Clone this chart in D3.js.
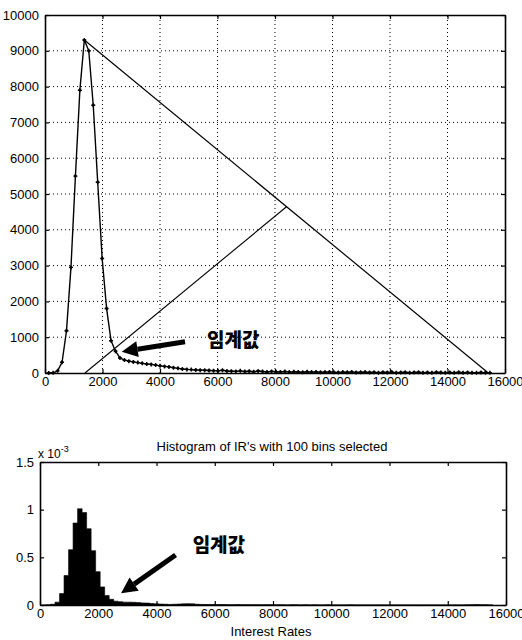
<!DOCTYPE html>
<html><head><meta charset="utf-8">
<script src="https://cdn.jsdelivr.net/npm/d3@7"></script>
<style>
html,body{margin:0;padding:0;background:#fff;}
svg{display:block;font-family:"Liberation Sans",Arial,sans-serif;}
</style></head>
<body><svg id="c" width="522" height="640"></svg>
<script>
// ---- data ----
const binStart = 128;      // centre of first bin
const binWidth = 155;      // bin width (Interest Rates)
const counts = [0,5,60,300,1180,2950,5500,7900,9300,9000,
  7480,5330,3200,1800,900,610,420,360,330,310,
  290,270,250,240,220,200,185,170,150,130,
  110,100,95,85,80,75,70,65,60,75,
  55,50,45,60,40,50,35,55,40,30,
  45,35,30,40,25,35,30,20,35,25,
  30,20,25,30,20,15,25,20,30,15,
  20,25,15,20,10,20,15,25,10,15,
  20,10,15,20,10,15,10,20,15,10,
  15,10,20,10,15,10,5,15,10,5];
const density = [0,0.002,0.008,0.03,0.12,0.31,0.58,0.86,1.01,0.97,
  0.8,0.57,0.35,0.19,0.1,0.06,0.04,0.035,0.03,0.03,
  0.028,0.025,0.022,0.02,0.015,0.012,0.01,0.008,0.006,0.008,
  0.01,0.012,0.014,0.012,0.008,0.006,0.005,0.004,0.004,0.005,
  0.004,0.003,0.003,0.004,0.003,0.003,0.002,0.003,0.002,0.002,
  0.003,0.002,0.002,0.002,0.001,0.002,0.002,0.001,0.002,0.001,
  0.002,0.001,0.001,0.002,0.001,0.001,0.001,0.001,0.002,0.001,
  0.001,0.001,0.001,0.001,0.001,0.001,0.001,0.001,0.001,0.001,
  0.001,0.001,0.001,0.001,0.001,0.001,0.001,0.001,0.001,0.001,
  0.001,0.001,0.001,0.001,0.002,0.003,0.004,0.003,0.002,0.001];
const triLine = [[1368,9300],[15420,0]];
const perpLine = [[1390,0],[8410,4650]];
const xTicks = [0,2000,4000,6000,8000,10000,12000,14000,16000];
const yTicksTop = [0,1000,2000,3000,4000,5000,6000,7000,8000,9000,10000];
const yTicksBot = [0,0.5,1,1.5];
const label = "임계값";
const arrowTop = {from:[4870,874], to:[2668,595], text:[5635,922]};
const arrowBot = {from:[4655,0.524], to:[2783,0.123], text:[5241,0.63]};
const histTitle = "Histogram of IR's with 100 bins selected";
const xLabel = "Interest Rates";

const centers = counts.map((_,i)=>binStart+binWidth*i);

const svg = d3.select("#c");

// ---- top chart ----
const xT = d3.scaleLinear().domain([0,16000]).range([45,505]);
const yT = d3.scaleLinear().domain([0,10000]).range([373,15]);
const gT = svg.append("g");

// grid
gT.selectAll(".vg").data(xTicks.slice(1,-1)).join("line")
  .attr("x1",d=>xT(d)).attr("x2",d=>xT(d)).attr("y1",yT(0)).attr("y2",yT(10000))
  .attr("stroke","#000").attr("stroke-width",1).attr("stroke-dasharray","1,3");
gT.selectAll(".hg").data(yTicksTop.slice(1,-1)).join("line")
  .attr("x1",xT(0)).attr("x2",xT(16000)).attr("y1",d=>yT(d)).attr("y2",d=>yT(d))
  .attr("stroke","#000").attr("stroke-width",1).attr("stroke-dasharray","1,3");

function axes(g,x,y,xt,yt,fmtY){
  const xb = g.append("g").attr("transform",`translate(0,${y.range()[0]})`)
    .call(d3.axisBottom(x).tickValues(xt).tickSizeInner(-4).tickSizeOuter(0).tickPadding(4).tickFormat(d3.format("d")));
  const xtop = g.append("g").attr("transform",`translate(0,${y.range()[1]})`)
    .call(d3.axisTop(x).tickValues(xt).tickSizeInner(-4).tickSizeOuter(0).tickFormat(""));
  const yl = g.append("g").attr("transform",`translate(${x.range()[0]},0)`)
    .call(d3.axisLeft(y).tickValues(yt).tickSizeInner(-4).tickSizeOuter(0).tickPadding(6).tickFormat(fmtY));
  const yr = g.append("g").attr("transform",`translate(${x.range()[1]},0)`)
    .call(d3.axisRight(y).tickValues(yt).tickSizeInner(-4).tickSizeOuter(0).tickFormat(""));
  [xb,xtop,yl,yr].forEach(a=>{
    a.selectAll("path").attr("stroke","#000").attr("stroke-width",1.6);
    a.selectAll("line").attr("stroke","#000").attr("stroke-width",1.2);
    a.selectAll("text").attr("fill","#000").attr("font-size",13).attr("font-family","'Liberation Sans',Arial,sans-serif");
  });
}

// curve
const line = d3.line().x((d,i)=>xT(centers[i])).y(d=>yT(d));
gT.append("path").datum(counts).attr("d",line).attr("fill","none").attr("stroke","#000").attr("stroke-width",1.4);
gT.selectAll(".mk").data(counts).join("path")
  .attr("transform",(d,i)=>`translate(${xT(centers[i])},${yT(d)})`)
  .attr("d","M-2,0H2M0,-2V2").attr("stroke","#000").attr("stroke-width",1.4);
gT.selectAll(".md").data(counts).join("circle")
  .attr("cx",(d,i)=>xT(centers[i])).attr("cy",d=>yT(d)).attr("r",1.4).attr("fill","#000");

const l2 = d3.line().x(d=>xT(d[0])).y(d=>yT(d[1]));
gT.append("path").datum(triLine).attr("d",l2).attr("fill","none").attr("stroke","#000").attr("stroke-width",1.2);
gT.append("path").datum(perpLine).attr("d",l2).attr("fill","none").attr("stroke","#000").attr("stroke-width",1.1);

axes(gT,xT,yT,xTicks,yTicksTop,d3.format("d"));

function arrow(g,x,y,a){
  const x1=x(a.from[0]),y1=y(a.from[1]),x2=x(a.to[0]),y2=y(a.to[1]);
  const ang=Math.atan2(y2-y1,x2-x1), hl=16, hw=8;
  const bx=x2-hl*Math.cos(ang), by=y2-hl*Math.sin(ang);
  g.append("line").attr("x1",x1).attr("y1",y1).attr("x2",bx).attr("y2",by)
    .attr("stroke","#000").attr("stroke-width",5);
  const px=-Math.sin(ang)*hw, py=Math.cos(ang)*hw;
  g.append("path").attr("d",`M${x2},${y2}L${bx+px},${by+py}L${bx-px},${by-py}Z`).attr("fill","#000");
  g.append("text").attr("x",x(a.text[0])).attr("y",y(a.text[1])).attr("dy","0.36em")
    .attr("font-family","'Noto Sans CJK KR',sans-serif").attr("font-weight",900)
    .attr("font-size",19).attr("fill","#000").text(label);
}
arrow(gT,xT,yT,arrowTop);

// ---- bottom chart ----
const xB = d3.scaleLinear().domain([0,16000]).range([40,506]);
const yB = d3.scaleLinear().domain([0,1.5]).range([605,462]);
const gB = svg.append("g");
const histPts = density.map((d,i)=>[centers[i]-binWidth/2,d]);
histPts.push([centers[centers.length-1]+binWidth/2, 0]);
const area = d3.area().curve(d3.curveStepAfter)
  .x(d=>xB(d[0])).y0(yB(0)).y1(d=>yB(d[1]));
gB.append("path").datum(histPts).attr("d",area).attr("fill","#000").attr("stroke","#000").attr("stroke-width",0.6);

axes(gB,xB,yB,xTicks,yTicksBot,d=>d===0?"0":d===1?"1":String(d));

arrow(gB,xB,yB,arrowBot);

gB.append("text").attr("x",272).attr("y",451).attr("text-anchor","middle")
  .attr("font-size",13).attr("fill","#000").text(histTitle);
gB.append("text").attr("x",271).attr("y",636).attr("text-anchor","middle")
  .attr("font-size",13).attr("fill","#000").text(xLabel);
const sc = gB.append("text").attr("x",38).attr("y",458).attr("font-size",12).attr("fill","#000");
sc.append("tspan").text("x 10");
sc.append("tspan").attr("dy",-6).attr("font-size",9).text("-3");
</script></body></html>
